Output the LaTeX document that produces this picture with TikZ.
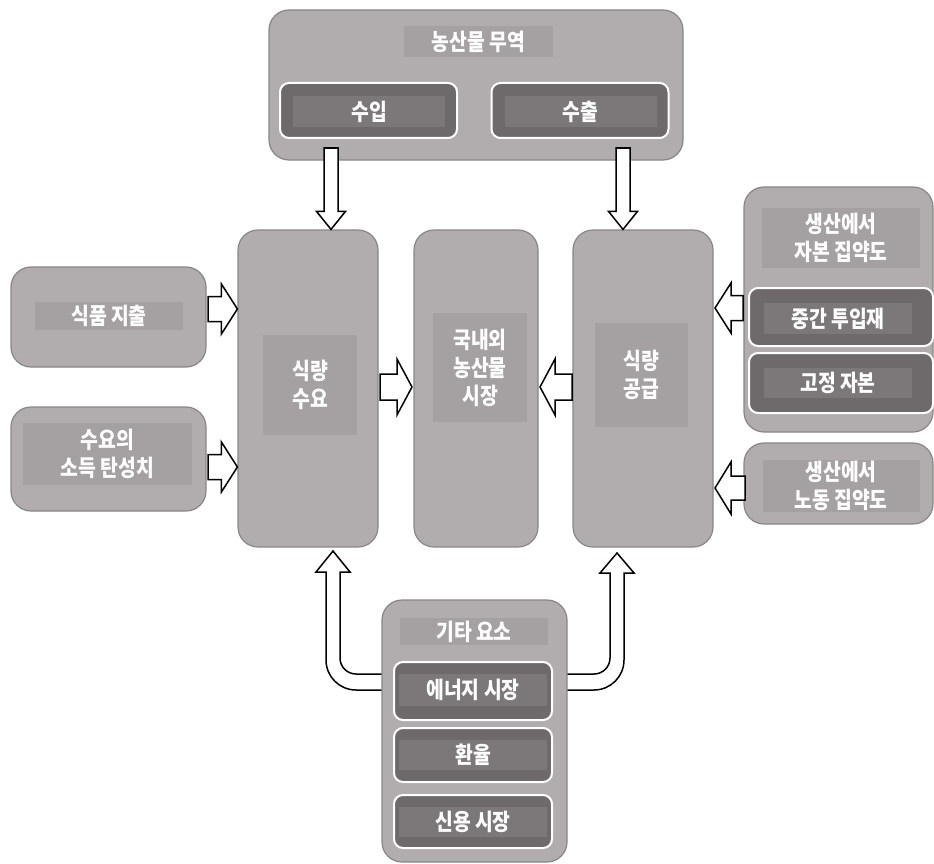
\documentclass[tikz,border=0pt]{standalone}
\usepackage{fontspec}
\newfontfamily\kr{Noto Sans CJK KR}[FakeStretch=0.84]
\usetikzlibrary{calc}
\definecolor{boxfill}{HTML}{B1ACAD}
\definecolor{boxdraw}{HTML}{8A8586}
\definecolor{lblfill}{HTML}{A5A0A1}
\definecolor{darkfill}{HTML}{6E696A}
\definecolor{darklbl}{HTML}{7C7778}
\tikzset{
  bigbox/.style={draw=boxdraw, fill=boxfill, line width=1.2pt, rounded corners=20pt, inner sep=0pt},
  darkbox/.style={draw=white, fill=darkfill, line width=2pt, rounded corners=9pt, inner sep=0pt},
  lbl/.style={fill=lblfill, inner sep=0pt, text=white, align=center,
     font=\kr\bfseries\fontsize{23}{28}\selectfont},
  dlbl/.style={lbl, fill=darklbl},
  blockarrow/.style={draw=black, fill=white, line width=1.5pt, line join=miter},
}
\newcommand\barrow[5]{%
  \coordinate (tmpC) at ($(#2)!#5!(#1)$);
  \draw[blockarrow] ($(#1)!#3!90:(#2)$) -- ($(tmpC)!#3!-90:(#1)$) -- ($(tmpC)!#4!-90:(#1)$)
    -- (#2) -- ($(tmpC)!#4!90:(#1)$) -- ($(tmpC)!#3!90:(#1)$) -- ($(#1)!#3!-90:(#2)$) -- cycle;
}
\begin{document}
\begin{tikzpicture}[x=1pt,y=-1pt]
\path[use as bounding box] (0,0) rectangle (934,864);

% trade box
\node[bigbox, minimum width=414pt, minimum height=150pt] (trade) at (476,85) {};
\node[lbl, minimum width=149pt, minimum height=31pt] (tradel) at (478.5,41.5) {농산물 무역};
\node[darkbox, minimum width=177pt, minimum height=55pt] (imp) at (368.5,110.5) {};
\node[dlbl, minimum width=152pt, minimum height=31pt] (impl) at (369,112) {수입};
\node[darkbox, minimum width=177pt, minimum height=55pt] (exp) at (580,110.5) {};
\node[dlbl, minimum width=152pt, minimum height=31pt] (expl) at (580.5,112) {수출};

% central boxes
\node[bigbox, minimum width=140pt, minimum height=317pt] (dem) at (308,388.5) {};
\node[lbl, minimum width=94pt, minimum height=100pt] (deml) at (310,385) {식량\\수요};
\node[bigbox, minimum width=124pt, minimum height=317pt] (mkt) at (476,388.5) {};
\node[lbl, minimum width=94pt, minimum height=109pt] (mktl) at (480,367.5) {국내외\\농산물\\시장};
\node[bigbox, minimum width=140pt, minimum height=317pt] (sup) at (643,388.5) {};
\node[lbl, minimum width=93pt, minimum height=104pt] (supl) at (641.5,375) {식량\\공급};

% left boxes
\node[bigbox, minimum width=195pt, minimum height=100pt] (fs) at (108.5,317) {};
\node[lbl, minimum width=148pt, minimum height=28pt] (fsl) at (109,316) {식품 지출};
\node[bigbox, minimum width=195pt, minimum height=104pt] (inc) at (108.5,459) {};
\node[lbl, minimum width=169pt, minimum height=62pt] (incl) at (107.5,454) {수요의\\소득 탄성치};

% right boxes
\node[bigbox, minimum width=189pt, minimum height=245pt] (cap) at (838.5,309.5) {};
\node[lbl, minimum width=158pt, minimum height=60pt] (capl) at (841,238) {생산에서\\자본 집약도};
\node[darkbox, minimum width=184pt, minimum height=58pt] (mid) at (841,317) {};
\node[dlbl, minimum width=148pt, minimum height=31pt] (midl) at (838,318.5) {중간 투입재};
\node[darkbox, minimum width=184pt, minimum height=60pt] (fix) at (841,383) {};
\node[dlbl, minimum width=148pt, minimum height=30pt] (fixl) at (838,383) {고정 자본};
\node[bigbox, minimum width=189pt, minimum height=81pt] (lab) at (838.5,483.5) {};
\node[lbl, minimum width=157pt, minimum height=52pt] (labl) at (841,486) {생산에서\\노동 집약도};

% curved arrows (drawn before bottom box)
\draw[blockarrow] (382,674) -- (356,674) arc[start angle=90,end angle=180,radius=16]
  -- (340,572) -- (350,572) -- (333,551) -- (316,572) -- (326,572)
  -- (326,660) arc[start angle=180,end angle=90,radius=30] -- (382,690);
\draw[blockarrow] (567,674) -- (594,674) arc[start angle=90,end angle=0,radius=16]
  -- (610,573) -- (600,573) -- (617,553) -- (634,573) -- (624,573)
  -- (624,660) arc[start angle=0,end angle=90,radius=30] -- (567,690);

% bottom box
\node[bigbox, minimum width=185pt, minimum height=262pt] (oth) at (474.5,731) {};
\node[lbl, minimum width=148pt, minimum height=27pt] (othl) at (474,631.5) {기타 요소};
\node[darkbox, minimum width=158pt, minimum height=58pt] (en) at (473,691) {};
\node[dlbl, minimum width=148pt, minimum height=32pt] (enl) at (473,690) {에너지 시장};
\node[darkbox, minimum width=158pt, minimum height=54pt] (fx) at (473,755) {};
\node[dlbl, minimum width=148pt, minimum height=30pt] (fxl) at (473,755) {환율};
\node[darkbox, minimum width=158pt, minimum height=53pt] (cr) at (473,821.5) {};
\node[dlbl, minimum width=148pt, minimum height=30pt] (crl) at (473,821.5) {신용 시장};

% straight block arrows
\coordinate (a1) at (331,148);  \coordinate (b1) at (a1 |- dem.north);
\barrow{a1}{b1}{7pt}{14.5pt}{18pt}
\coordinate (a2) at (623,148);  \coordinate (b2) at (a2 |- sup.north);
\barrow{a2}{b2}{7pt}{14.5pt}{18pt}
\coordinate (a3) at (208,309);  \coordinate (b3) at (a3 -| dem.west);
\barrow{a3}{b3}{12.5pt}{25pt}{16pt}
\coordinate (a4) at (208,467);  \coordinate (b4) at (a4 -| dem.west);
\barrow{a4}{b4}{12.5pt}{25pt}{16pt}
\coordinate (a5) at (380,387);  \coordinate (b5) at (412,387);
\barrow{a5}{b5}{13pt}{28pt}{15pt}
\coordinate (a6) at (572,387);  \coordinate (b6) at (540,387);
\barrow{a6}{b6}{13pt}{28pt}{15pt}
\coordinate (a7) at (743,308);  \coordinate (b7) at (715,308);
\barrow{a7}{b7}{12.5pt}{25pt}{16pt}
\coordinate (a8) at (745,488);  \coordinate (b8) at (715,488);
\barrow{a8}{b8}{12pt}{26pt}{16pt}
\end{tikzpicture}
\end{document}
